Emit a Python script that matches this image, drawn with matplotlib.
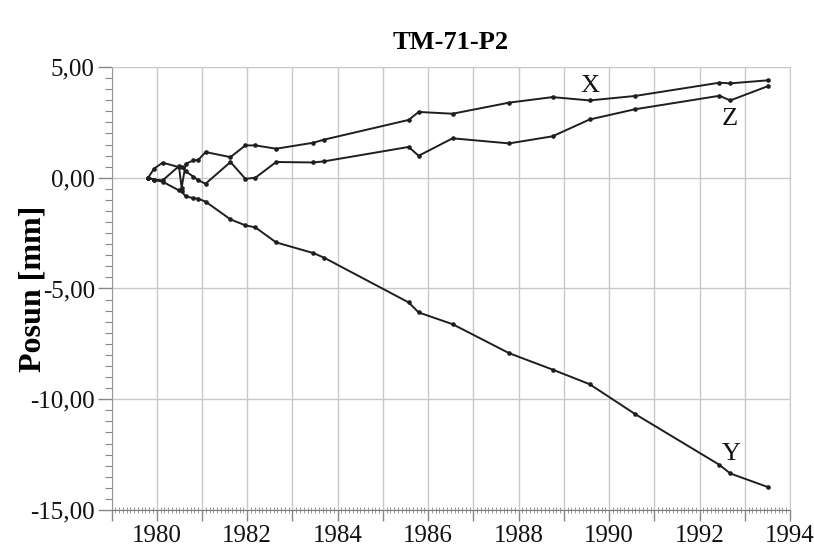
import numpy as np
import matplotlib
matplotlib.use('Agg')
import matplotlib.pyplot as plt
from matplotlib.ticker import MultipleLocator

# datum merania (roky) a posuny v mm
roky = [1979.81, 1979.94, 1980.13, 1980.49, 1980.55, 1980.64, 1980.81, 1980.92, 1981.08,
        1981.63, 1981.96, 1982.18, 1982.64, 1983.46, 1983.70, 1985.57, 1985.79, 1986.54,
        1987.79, 1988.75, 1989.57, 1990.57, 1992.44, 1992.68, 1993.52]
posun_x = [0.00, -0.08, -0.12, 0.52, -0.45, 0.63, 0.78, 0.81, 1.16,
           0.93, 1.46, 1.46, 1.31, 1.58, 1.72, 2.61, 2.97, 2.89,
           3.39, 3.64, 3.49, 3.69, 4.29, 4.26, 4.40]
posun_y = [0.00, -0.10, -0.18, -0.57, -0.62, -0.84, -0.92, -0.95, -1.08,
           -1.88, -2.15, -2.24, -2.92, -3.40, -3.61, -5.63, -6.08, -6.61,
           -7.92, -8.66, -9.32, -10.66, -12.96, -13.35, -13.97]
posun_z = [0.00, 0.41, 0.68, 0.48, 0.50, 0.29, 0.05, -0.12, -0.27,
           0.71, -0.05, 0.00, 0.71, 0.69, 0.74, 1.39, 0.99, 1.78,
           1.55, 1.87, 2.63, 3.09, 3.70, 3.49, 4.14]

x_ticks = [1980, 1982, 1984, 1986, 1988, 1990, 1992, 1994]
y_ticks = [5, 0, -5, -10, -15]
y_tick_labels = ['5,00', '0,00', '-5,00', '-10,00', '-15,00']

# popisky priamo pri krivkach
popisky = {'X': (1989.57, 4.12), 'Z': (1992.67, 2.66), 'Y': (1992.71, -12.49)}

plt.rcParams['font.family'] = ['Liberation Serif', 'DejaVu Serif']

fig = plt.figure(figsize=(8.14, 5.49), dpi=100)
ax = fig.add_axes([0.137, 0.071, 0.8335, 0.807])

line_color = '#1e1e1e'
for vals in (posun_x, posun_y, posun_z):
    ax.plot(roky, vals, color=line_color, lw=1.4, marker='o', markersize=2.3)

for name, (xx, yy) in popisky.items():
    ax.text(xx, yy, name, fontsize=19, ha='center', va='center', color='#111111')

ax.set_xlim(1979, 1994)
ax.set_ylim(-15, 5)

ax.xaxis.set_minor_locator(MultipleLocator(1 / 12))
ax.set_xticks(np.arange(1979, 1995))
ax.set_xticklabels([str(r) if r in x_ticks else '' for r in range(1979, 1995)])
ax.set_yticks(y_ticks)
ax.set_yticklabels(y_tick_labels)
ax.yaxis.set_minor_locator(MultipleLocator(0.5))

ax.grid(True, which='major', color='#c8c8c8', lw=1.0)
ax.set_axisbelow(True)

ax.tick_params(axis='both', which='major', labelsize=18, colors='#888888',
               labelcolor='#111111')
ax.tick_params(axis='x', which='major', direction='out', length=8, width=1, pad=3)
ax.tick_params(axis='x', which='minor', direction='inout', length=5, width=0.6,
               colors='#888888')
ax.tick_params(axis='y', which='major', direction='out', length=10, width=1, pad=2)
ax.tick_params(axis='y', which='minor', direction='out', length=5, width=0.8,
               colors='#888888')

for side in ('top', 'right'):
    ax.spines[side].set_color('#c8c8c8')
ax.spines['left'].set_color('#999999')
ax.spines['bottom'].set_color('#777777')

ax.set_title('TM-71-P2', fontsize=19, fontweight='bold', pad=13)
ax.set_ylabel('Posun [mm]', fontsize=23, fontweight='bold')
ax.yaxis.set_label_coords(-0.094, 0.5)

plt.savefig('out.png', dpi=100, facecolor='white')
